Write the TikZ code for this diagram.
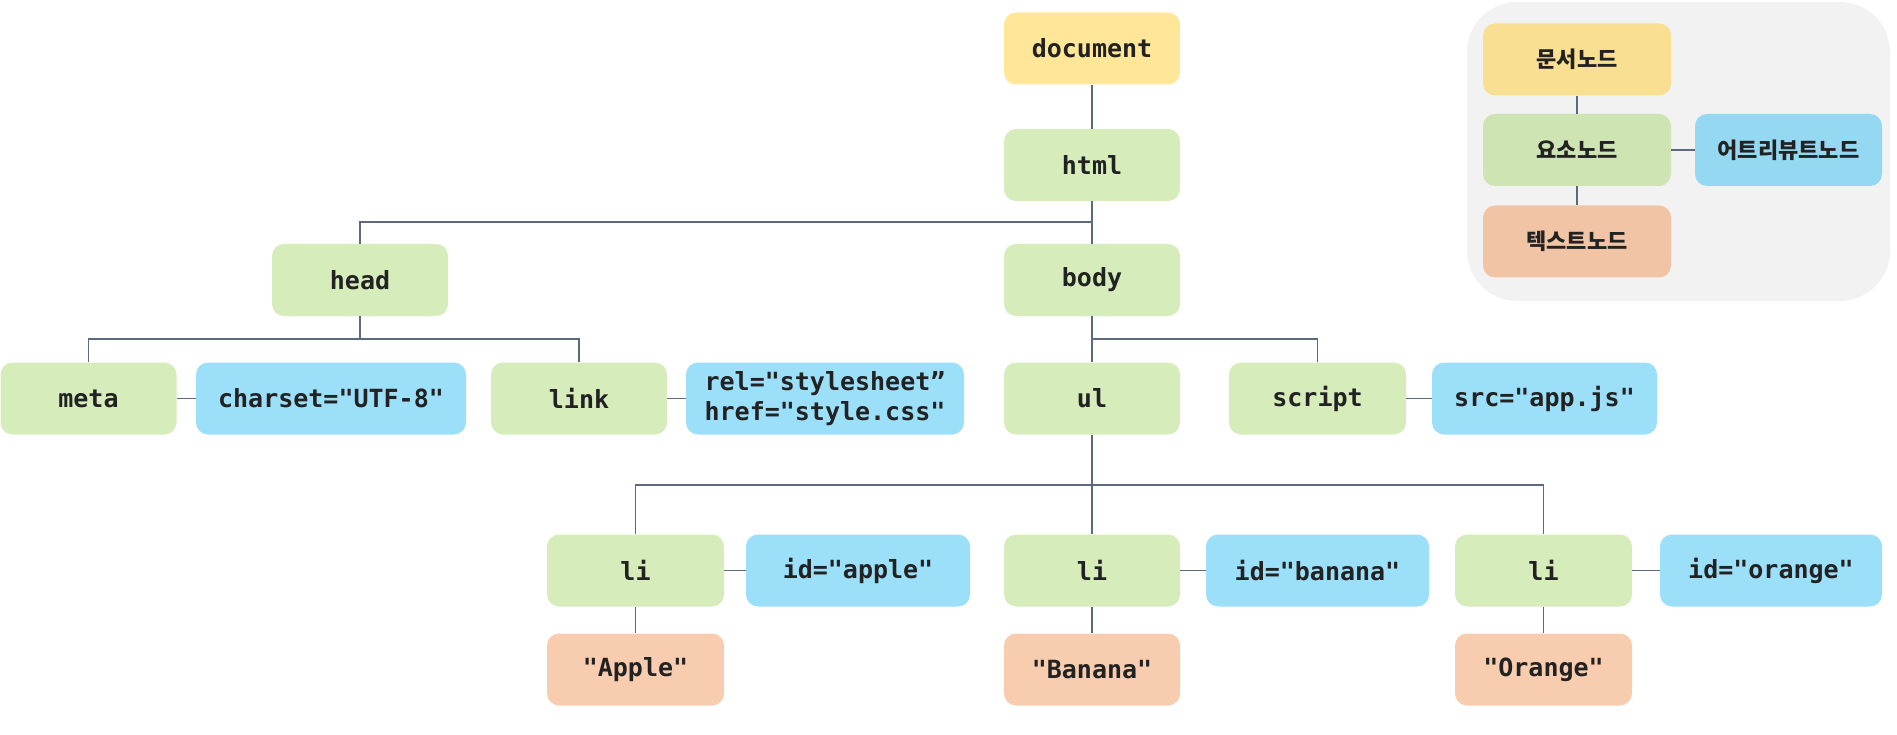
\documentclass[tikz,border=0pt]{standalone}
\usepackage{fontspec}
\setmonofont{DejaVu Sans Mono}
\newfontfamily\krfont{Noto Sans CJK KR}
\definecolor{docc}{HTML}{FFE699}
\definecolor{elc}{HTML}{D6EDBB}
\definecolor{atc}{HTML}{9BDFF9}
\definecolor{txc}{HTML}{F8CCAF}
\definecolor{ldocc}{HTML}{F8DF92}
\definecolor{lelc}{HTML}{CEE5B3}
\definecolor{latc}{HTML}{94D8F2}
\definecolor{ltxc}{HTML}{F1C4A6}
\definecolor{lgbg}{HTML}{F2F2F2}
\definecolor{linec}{HTML}{5B6A7F}
\definecolor{ink}{HTML}{222222}
\tikzset{
  box/.style={rounded corners=12pt, inner sep=0pt, minimum height=72pt, text=ink,
    font=\fontsize{25pt}{30pt}\selectfont\ttfamily\bfseries, align=center},
  docbox/.style={box, fill=docc, minimum width=176pt},
  elbox/.style={box, fill=elc, minimum width=176pt},
  atbox/.style={box, fill=atc},
  txbox/.style={box, fill=txc, minimum width=176pt},
  lgbox/.style={rounded corners=12pt, inner sep=0pt, minimum height=72pt, minimum width=188pt,
    text=ink, font=\fontsize{22pt}{26pt}\selectfont\krfont\bfseries},
  conn/.style={draw=linec, line width=1.4pt},
}
\begin{document}
\begin{tikzpicture}[x=1pt, y=-1pt]
\useasboundingbox (0,0) rectangle (1897,735);
% legend
\fill[lgbg, rounded corners=50pt] (1467,2) rectangle (1890,301);
\node[lgbox, fill=ldocc] (lgdoc) at (1577,59.5) {문서노드};
\node[lgbox, fill=lelc] (lgel) at (1577,150) {요소노드};
\node[lgbox, fill=latc, minimum width=187pt] (lgat) at (1788.5,150) {어트리뷰트노드};
\node[lgbox, fill=ltxc] (lgtx) at (1577,241.5) {텍스트노드};
\draw[conn] (lgdoc.south) -- (lgel.north);
\draw[conn] (lgel.south) -- (lgtx.north);
\draw[conn] (lgel.east) -- (lgat.west);
% tree
\node[docbox] (document) at (1092,48.5) {document};
\node[elbox] (html) at (1092,165) {html};
\node[elbox] (head) at (360,280) {head};
\node[elbox] (body) at (1092,280) {body};
\node[elbox] (meta) at (88.5,398.5) {meta};
\node[atbox, minimum width=270pt] (charset) at (331,398.5) {charset="UTF-8"};
\node[elbox] (link) at (579,398.5) {link};
\node[atbox, minimum width=278pt] (rel) at (825,398.5) {rel="stylesheet”\\href="style.css"};
\node[elbox] (ul) at (1092,398.5) {ul};
\node[elbox, minimum width=177pt] (script) at (1317.5,398.5) {script};
\node[atbox, minimum width=225pt] (src) at (1544.5,398.5) {src="app.js"};
\node[elbox, minimum width=177pt] (li1) at (635.5,570.5) {li};
\node[atbox, minimum width=224pt] (apple) at (858,570.5) {id="apple"};
\node[elbox] (li2) at (1092,570.5) {li};
\node[atbox, minimum width=223pt] (banana) at (1317.5,570.5) {id="banana"};
\node[elbox, minimum width=177pt] (li3) at (1543.5,570.5) {li};
\node[atbox, minimum width=222pt] (orange) at (1771,570.5) {id="orange"};
\node[txbox, minimum width=177pt] (tapple) at (635.5,669.5) {"Apple"};
\node[txbox] (tbanana) at (1092,669.5) {"Banana"};
\node[txbox, minimum width=177pt] (torange) at (1543.5,669.5) {"Orange"};
\coordinate (jhtml) at (1092,222);
\coordinate (jhead) at (360,339);
\coordinate (jbody) at (1092,339);
\coordinate (jul) at (1092,485);
\draw[conn] (document.south) -- (html.north);
\draw[conn] (html.south) -- (body.north);
\draw[conn] (head.north) |- (jhtml);
\draw[conn] (head.south) -- (jhead);
\draw[conn] (meta.north) |- (jhead) -| (link.north);
\draw[conn] (body.south) -- (ul.north);
\draw[conn] (script.north) |- (jbody);
\draw[conn] (ul.south) -- (li2.north);
\draw[conn] (li1.north) |- (jul) -| (li3.north);
\draw[conn] (meta.east) -- (charset.west);
\draw[conn] (link.east) -- (rel.west);
\draw[conn] (script.east) -- (src.west);
\draw[conn] (li1.east) -- (apple.west);
\draw[conn] (li2.east) -- (banana.west);
\draw[conn] (li3.east) -- (orange.west);
\draw[conn] (li1.south) -- (tapple.north);
\draw[conn] (li2.south) -- (tbanana.north);
\draw[conn] (li3.south) -- (torange.north);
\end{tikzpicture}
\end{document}
